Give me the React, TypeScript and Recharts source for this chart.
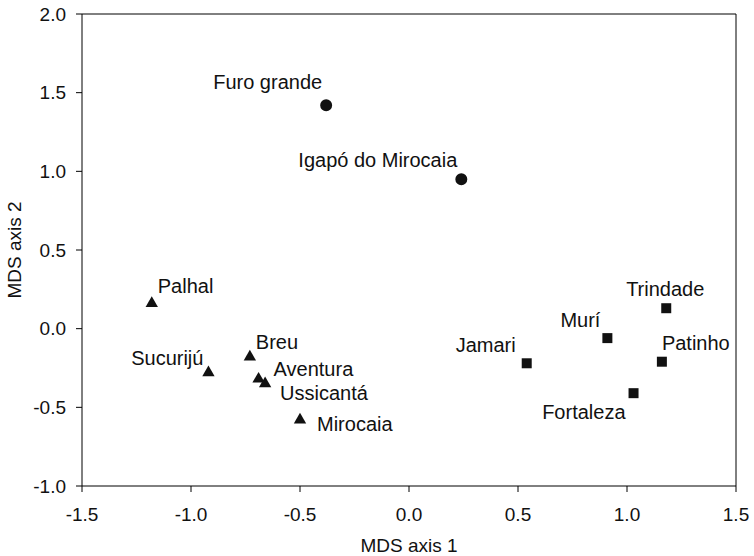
import { ScatterChart, Scatter, XAxis, YAxis, ReferenceLine, LabelList, Label, Symbols } from "recharts";

const xTicks = [-1.5, -1.0, -0.5, 0.0, 0.5, 1.0, 1.5];
const yTicks = [-1.0, -0.5, 0.0, 0.5, 1.0, 1.5, 2.0];

// circles
const circleSites = ["Furo grande", "Igapó do Mirocaia"];
const circleAxis1 = [-0.38, 0.24];
const circleAxis2 = [1.42, 0.95];

// triangles
const triangleSites = ["Palhal", "Sucurijú", "Breu", "Aventura", "Ussicantá", "Mirocaia"];
const triangleAxis1 = [-1.18, -0.92, -0.73, -0.69, -0.66, -0.5];
const triangleAxis2 = [0.16, -0.28, -0.18, -0.32, -0.35, -0.58];

// squares
const squareSites = ["Trindade", "Murí", "Patinho", "Jamari", "Fortaleza"];
const squareAxis1 = [1.18, 0.91, 1.16, 0.54, 1.03];
const squareAxis2 = [0.13, -0.06, -0.21, -0.22, -0.41];

// where each site name sits next to its marker
const labelPlace: Record<string, [string, number, number]> = {
  "Furo grande": ["end", -4, -23],
  "Igapó do Mirocaia": ["end", -4, -19],
  Palhal: ["start", 6, -17],
  "Sucurijú": ["end", -5, -15],
  Breu: ["start", 6, -15],
  Aventura: ["start", 15, -10],
  "Ussicantá": ["start", 15, 9],
  Mirocaia: ["start", 17, 4],
  Trindade: ["middle", -1, -19],
  "Murí": ["end", -7, -18],
  Patinho: ["start", 0, -19],
  Jamari: ["end", -11, -18],
  Fortaleza: ["end", -8, 19],
};

const FONT = "'Liberation Sans', Arial, sans-serif";
const INK = "#111";

const toPoints = (names: string[], xs: number[], ys: number[]) =>
  names.map((name, i) => ({ name, x: xs[i], y: ys[i] }));

const marker = (type: "circle" | "triangle" | "square", size: number) => (p: any) =>
  <Symbols cx={p.cx} cy={p.cy} type={type} size={size} fill={INK} />;

function SiteLabel(props: any) {
  const { x, y, width, height, value } = props;
  const place = labelPlace[value] ?? ["start", 6, -15];
  const cx = x + width / 2;
  const cy = y + height / 2;
  return (
    <text
      x={cx + place[1]}
      y={cy + place[2]}
      textAnchor={place[0] as any}
      dominantBaseline="central"
      fontSize={20}
      fontFamily={FONT}
      fill={INK}
    >
      {value}
    </text>
  );
}

const tickStyle = { fontSize: 19, fontFamily: FONT, fill: INK };

export default function App() {
  return (
    <div style={{ position: "absolute", left: 0, top: 0, background: "#fff" }}>
      <ScatterChart width={754} height={556} margin={{ top: 14, right: 18, bottom: 10, left: 10 }}>
        <XAxis
          type="number"
          dataKey="x"
          domain={[-1.5, 1.5]}
          ticks={xTicks}
          tickFormatter={(v: number) => v.toFixed(1)}
          tick={tickStyle}
          tickSize={6}
          tickMargin={16}
          stroke="#000"
          height={60}
          allowDataOverflow
        >
          <Label value="MDS axis 1" position="insideBottom" offset={-6} style={{ fontSize: 19, fontFamily: FONT, fill: INK }} />
        </XAxis>
        <YAxis
          type="number"
          dataKey="y"
          domain={[-1, 2]}
          ticks={yTicks}
          tickFormatter={(v: number) => v.toFixed(1)}
          tick={tickStyle}
          tickSize={6}
          tickMargin={10}
          stroke="#000"
          width={72}
          allowDataOverflow
        >
          <Label
            value="MDS axis 2"
            angle={-90}
            position="insideLeft"
            offset={4}
            style={{ fontSize: 19, fontFamily: FONT, fill: INK, textAnchor: "middle" }}
          />
        </YAxis>
        <ReferenceLine y={2} stroke="#000" />
        <ReferenceLine x={1.5} stroke="#000" />
        <Scatter
          data={toPoints(circleSites, circleAxis1, circleAxis2)}
          shape={marker("circle", 113)}
          fill={INK}
          isAnimationActive={false}
        >
          <LabelList dataKey="name" content={SiteLabel} />
        </Scatter>
        <Scatter
          data={toPoints(triangleSites, triangleAxis1, triangleAxis2)}
          shape={marker("triangle", 66)}
          fill={INK}
          isAnimationActive={false}
        >
          <LabelList dataKey="name" content={SiteLabel} />
        </Scatter>
        <Scatter
          data={toPoints(squareSites, squareAxis1, squareAxis2)}
          shape={marker("square", 100)}
          fill={INK}
          isAnimationActive={false}
        >
          <LabelList dataKey="name" content={SiteLabel} />
        </Scatter>
      </ScatterChart>
    </div>
  );
}
